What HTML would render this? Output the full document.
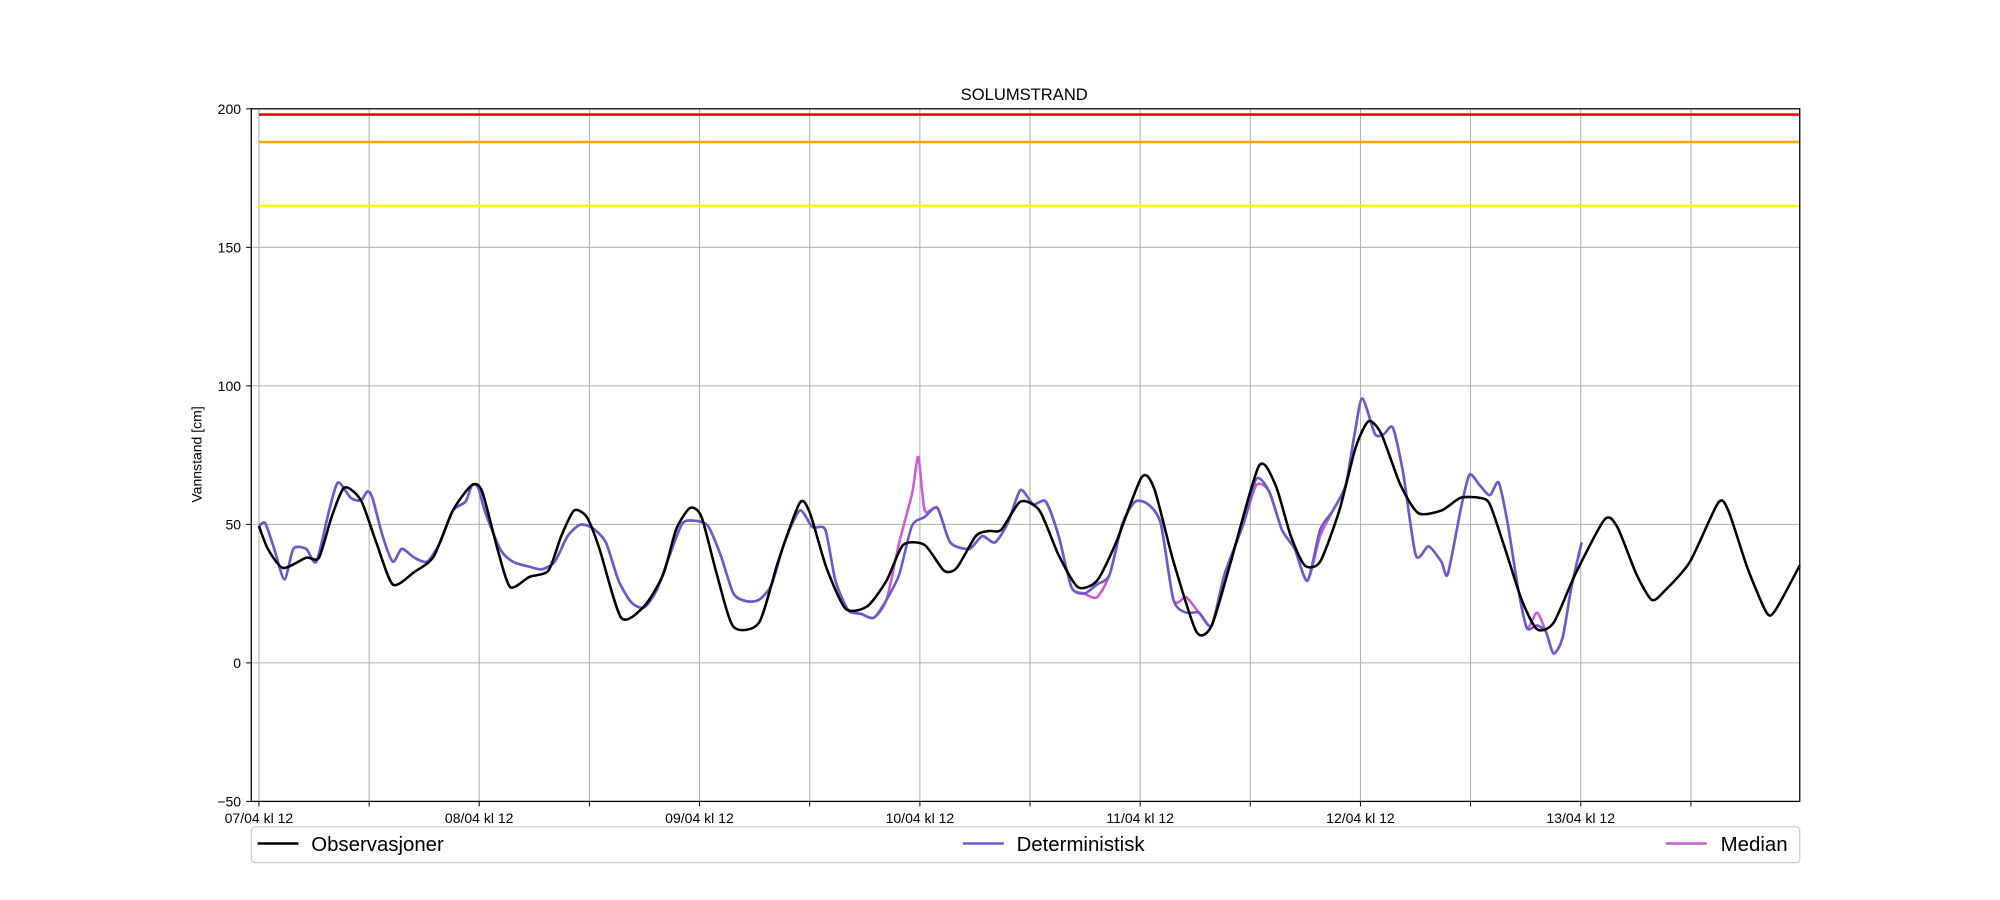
<!DOCTYPE html>
<html><head><meta charset="utf-8"><style>
html,body{margin:0;padding:0;background:#fff;}
svg{display:block;font-family:"Liberation Sans","DejaVu Sans",sans-serif;}
</style></head><body>
<svg id="s" width="2000" height="900" viewBox="0 0 1568 705" xmlns="http://www.w3.org/2000/svg">
<rect width="1568" height="705" fill="#fff"/>
<g stroke="#b0b0b0" stroke-width="0.8">
<line x1="197" x2="1411" y1="519.4" y2="519.4"/>
<line x1="197" x2="1411" y1="410.8" y2="410.8"/>
<line x1="197" x2="1411" y1="302.2" y2="302.2"/>
<line x1="197" x2="1411" y1="193.6" y2="193.6"/>
<line y1="85" y2="628" x1="203" x2="203"/>
<line y1="85" y2="628" x1="289.4" x2="289.4"/>
<line y1="85" y2="628" x1="375.7" x2="375.7"/>
<line y1="85" y2="628" x1="462.1" x2="462.1"/>
<line y1="85" y2="628" x1="548.4" x2="548.4"/>
<line y1="85" y2="628" x1="634.8" x2="634.8"/>
<line y1="85" y2="628" x1="721.2" x2="721.2"/>
<line y1="85" y2="628" x1="807.5" x2="807.5"/>
<line y1="85" y2="628" x1="893.9" x2="893.9"/>
<line y1="85" y2="628" x1="980.2" x2="980.2"/>
<line y1="85" y2="628" x1="1066.6" x2="1066.6"/>
<line y1="85" y2="628" x1="1152.9" x2="1152.9"/>
<line y1="85" y2="628" x1="1239.3" x2="1239.3"/>
<line y1="85" y2="628" x1="1325.7" x2="1325.7"/>
</g>
<line x1="203" x2="1411" y1="89.5" y2="89.5" stroke="#ff0000" stroke-width="2"/>
<line x1="203" x2="1411" y1="111" y2="111" stroke="#ffa500" stroke-width="2"/>
<line x1="203" x2="1411" y1="161" y2="161" stroke="#ffff00" stroke-width="2"/>
<g id="series" fill="none" stroke-linejoin="round"></g>
<rect x="197" y="85" width="1214" height="543" fill="none" stroke="#000" stroke-width="1"/>
<g stroke="#000" stroke-width="0.8">
<line x1="193" x2="197" y1="85" y2="85"/><line x1="193" x2="197" y1="193.6" y2="193.6"/>
<line x1="193" x2="197" y1="302.2" y2="302.2"/><line x1="193" x2="197" y1="410.8" y2="410.8"/>
<line x1="193" x2="197" y1="519.4" y2="519.4"/><line x1="193" x2="197" y1="628" y2="628"/>
<line y1="628" y2="632" x1="203" x2="203"/><line y1="628" y2="632" x1="289.4" x2="289.4"/>
<line y1="628" y2="632" x1="375.7" x2="375.7"/><line y1="628" y2="632" x1="462.1" x2="462.1"/>
<line y1="628" y2="632" x1="548.4" x2="548.4"/><line y1="628" y2="632" x1="634.8" x2="634.8"/>
<line y1="628" y2="632" x1="721.2" x2="721.2"/><line y1="628" y2="632" x1="807.5" x2="807.5"/>
<line y1="628" y2="632" x1="893.9" x2="893.9"/><line y1="628" y2="632" x1="980.2" x2="980.2"/>
<line y1="628" y2="632" x1="1066.6" x2="1066.6"/><line y1="628" y2="632" x1="1152.9" x2="1152.9"/>
<line y1="628" y2="632" x1="1239.3" x2="1239.3"/><line y1="628" y2="632" x1="1325.7" x2="1325.7"/>
</g>
<g font-size="11" fill="#000" text-anchor="end">
<text x="189" y="89">200</text><text x="189" y="197.6">150</text><text x="189" y="306.2">100</text>
<text x="189" y="414.8">50</text><text x="189" y="523.4">0</text><text x="189" y="632">−50</text>
</g>
<g font-size="11" fill="#000" text-anchor="middle">
<text x="203" y="645">07/04 kl 12</text><text x="375.7" y="645">08/04 kl 12</text>
<text x="548.4" y="645">09/04 kl 12</text><text x="721.2" y="645">10/04 kl 12</text>
<text x="893.9" y="645">11/04 kl 12</text><text x="1066.6" y="645">12/04 kl 12</text>
<text x="1239.3" y="645">13/04 kl 12</text>
</g>
<text x="803" y="78" font-size="13" text-anchor="middle">SOLUMSTRAND</text>
<text transform="translate(158,356) rotate(-90)" font-size="11" text-anchor="middle">Vannstand [cm]</text>
<rect x="197" y="648" width="1214" height="28" rx="3" fill="#fff" stroke="#ccc" stroke-width="1"/>
<line x1="202" x2="234" y1="661" y2="661" stroke="#000" stroke-width="2"/>
<text x="244" y="667" font-size="16">Observasjoner</text>
<line x1="755" x2="787" y1="661" y2="661" stroke="#6a5acd" stroke-width="2"/>
<text x="797" y="667" font-size="16">Deterministisk</text>
<line x1="1306" x2="1338" y1="661" y2="661" stroke="#cc5ad0" stroke-width="2"/>
<text x="1349" y="667" font-size="16">Median</text>
</svg>
<script>
function path(p){let d="M"+p[0][0]+","+p[0][1];
for(let i=0;i<p.length-1;i++){const a=p[Math.max(0,i-1)],b=p[i],c=p[i+1],e=p[Math.min(p.length-1,i+2)];
const t=0.12;
const c1=[b[0]+(c[0]-a[0])*t,b[1]+(c[1]-a[1])*t],c2=[c[0]-(e[0]-b[0])*t,c[1]-(e[1]-b[1])*t];
d+=" C"+c1[0].toFixed(1)+","+c1[1].toFixed(1)+" "+c2[0].toFixed(1)+","+c2[1].toFixed(1)+" "+c[0]+","+c[1];}return d;}
const det=[[203,412],[208,410],[215,430],[223,454],[230,430],[240,430],[248,440],[258,400],[265,378],[275,390],[283,392],[288,385],[292,390],[300,420],[308,440],[315,430],[325,437],[335,440],[345,425],[355,400],[365,393],[370,380],[375,382],[380,400],[392,430],[402,440],[415,444],[425,446],[435,440],[445,420],[455,411],[465,414],[475,425],[485,455],[495,472],[505,476],[515,462],[525,435],[535,410],[545,408],[555,412],[565,435],[575,465],[585,471],[595,470],[605,458],[615,425],[627,400],[637,413],[647,415],[655,455],[665,478],[675,481],[685,484],[695,470],[705,450],[715,412],[725,405],[735,398],[745,425],[760,430],[770,420],[780,425],[790,410],[800,384],[810,395],[820,393],[830,420],[840,460],[850,465],[860,458],[870,450],[880,410],[890,393],[900,395],[910,410],[920,470],[930,480],[940,480],[950,490],[960,450],[975,410],[985,375],[995,385],[1005,415],[1015,430],[1025,455],[1035,415],[1045,400],[1055,380],[1062,340],[1068,312],[1078,340],[1085,340],[1092,335],[1100,370],[1110,435],[1120,428],[1130,440],[1135,450],[1145,400],[1152,372],[1160,380],[1168,388],[1175,378],[1182,410],[1190,460],[1197,492],[1205,490],[1212,495],[1218,512],[1225,500],[1232,460],[1240,425]];
const med=det.map(([x,y])=>{let dy=0;
if(x==705)dy=-25; if(x==715)dy=-25; if(x==725)dy=-5;
if(x==860)dy=10; if(x==930)dy=-12; if(x==945)dy=5;
if(x==985)dy=5; if(x==1035)dy=5; if(x==1205)dy=-10;
return [x,y+dy];});
med.push([720,358]);
med.sort((a,b)=>a[0]-b[0]);
const obs=[[203,412],[210,430],[222,445],[240,437],[250,437],[260,405],[270,382],[283,392],[295,425],[308,458],[325,448],[340,436],[355,400],[370,380],[378,385],[390,430],[400,460],[415,452],[430,447],[440,420],[450,400],[460,405],[470,430],[487,484],[505,475],[520,450],[530,415],[541,398],[550,405],[562,450],[575,491],[595,488],[610,440],[627,394],[635,402],[648,445],[663,477],[680,475],[695,455],[708,427],[725,427],[740,447],[750,445],[765,420],[775,416],[785,415],[800,393],[815,400],[830,435],[845,460],[860,455],[875,425],[895,374],[905,383],[920,440],[938,495],[950,490],[965,440],[987,365],[1000,380],[1012,420],[1023,443],[1035,440],[1050,400],[1063,350],[1073,330],[1083,340],[1098,380],[1112,402],[1130,400],[1145,390],[1160,390],[1168,395],[1180,430],[1193,470],[1205,493],[1218,488],[1235,450],[1258,407],[1268,413],[1283,450],[1295,470],[1305,463],[1325,440],[1347,394],[1355,400],[1370,445],[1385,480],[1392,478],[1411,443]];
const g=document.getElementById("series");
[[med,"#cc5ad0"],[det,"#6a5acd"],[obs,"#000"]].forEach(([p,c])=>{
const e=document.createElementNS("http://www.w3.org/2000/svg","path");
e.setAttribute("d",path(p));e.setAttribute("stroke",c);e.setAttribute("stroke-width","2");g.appendChild(e);});
</script>
</body></html>
